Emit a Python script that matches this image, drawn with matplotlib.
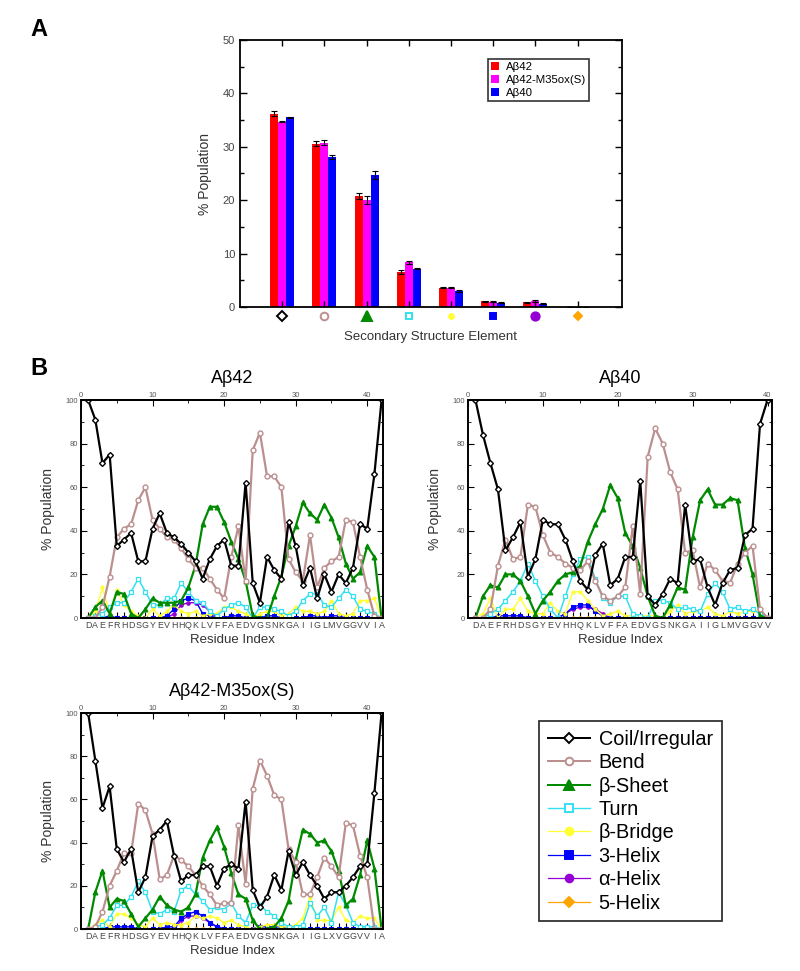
import numpy as np
import matplotlib
matplotlib.use("Agg")
import matplotlib.pyplot as plt
from matplotlib.lines import Line2D
import matplotlib.transforms as mtransforms

plt.rcParams["font.family"] = ["Liberation Sans", "DejaVu Sans"]

# ---- Panel A: overall secondary structure populations ----
systems = ["Aβ42", "Aβ42-M35ox(S)", "Aβ40"]
bar_colors = ["#ff0000", "#ff00ff", "#0000ff"]
pop_ab42 = [36.2, 30.6, 20.8, 6.5, 3.6, 1.1, 0.9, 0.0]
pop_ox = [34.7, 30.8, 20.0, 8.4, 3.6, 1.0, 1.1, 0.0]
pop_ab40 = [35.5, 28.1, 24.7, 7.2, 3.0, 0.8, 0.6, 0.0]
err_ab42 = [0.5, 0.5, 0.6, 0.4, 0.1, 0.1, 0.1, 0.0]
err_ox = [0.1, 0.4, 0.8, 0.3, 0.1, 0.1, 0.2, 0.0]
err_ab40 = [0.1, 0.4, 0.8, 0.1, 0.1, 0.1, 0.1, 0.0]

# ---- Panel B: per-residue populations ----
seq42 = list("DAEFRHDSGYEVHHQKLVFFAEDVGSNKGAIIGLMVGGVVIA")
seq40 = list("DAEFRHDSGYEVHHQKLVFFAEDVGSNKGAIIGLMVGGVV")
seqox = list("DAEFRHDSGYEVHHQKLVFFAEDVGSNKGAIIGLXVGGVVIA")

ab42 = {
    "coil": [100, 91, 71, 75, 33, 36, 39, 26, 26, 41, 48, 39, 37, 34, 30, 26, 18, 27, 33, 36, 24,
             24, 62, 16, 7, 28, 22, 18, 44, 33, 15, 23, 9, 20, 12, 20, 16, 23, 43, 41, 66, 100],
    "bend": [0, 0, 5, 19, 37, 41, 43, 54, 60, 45, 41, 37, 36, 32, 27, 23, 23, 18, 13, 9, 28,
             42, 17, 77, 85, 65, 65, 60, 27, 21, 17, 38, 14, 23, 26, 28, 45, 44, 28, 13, 1, 0],
    "sheet": [0, 5, 8, 2, 12, 11, 2, 0, 4, 9, 7, 7, 7, 8, 14, 24, 43, 51, 51, 44, 35,
              27, 17, 1, 0, 0, 10, 19, 33, 42, 53, 48, 45, 52, 46, 37, 25, 18, 21, 33, 28, 0],
    "turn": [0, 1, 2, 5, 7, 7, 12, 18, 12, 6, 6, 9, 9, 16, 12, 8, 7, 3, 1, 4, 6,
             7, 5, 0, 5, 5, 4, 3, 1, 3, 8, 11, 11, 6, 5, 9, 13, 10, 4, 3, 2, 0],
    "bridge": [0, 3, 14, 2, 13, 6, 3, 1, 0, 4, 1, 3, 6, 3, 2, 3, 1, 2, 2, 5, 5,
               3, 2, 0, 2, 3, 3, 1, 2, 5, 3, 3, 2, 3, 8, 2, 1, 2, 8, 8, 9, 0],
    "h3": [0, 0, 0, 1, 0, 0, 0, 0, 0, 0, 0, 1, 4, 8, 9, 8, 2, 1, 0, 0, 1,
           1, 0, 0, 0, 1, 1, 0, 0, 0, 0, 1, 1, 0, 1, 1, 0, 0, 0, 0, 0, 0],
    "alpha": [0, 0, 0, 0, 0, 0, 0, 0, 0, 0, 0, 0, 2, 6, 7, 7, 6, 3, 0, 0, 0,
              0, 0, 0, 0, 0, 0, 0, 0, 0, 0, 0, 0, 0, 0, 0, 0, 0, 0, 0, 0, 0],
    "h5": [0] * 42,
}

ab40 = {
    "coil": [100, 84, 71, 59, 31, 37, 44, 19, 27, 45, 43, 43, 36, 26, 17, 13, 29, 34, 15, 18,
             28, 28, 63, 10, 6, 11, 18, 16, 52, 26, 27, 14, 6, 16, 22, 23, 38, 41, 89, 100],
    "bend": [0, 0, 4, 24, 36, 27, 28, 52, 51, 38, 30, 28, 25, 23, 22, 26, 17, 10, 8, 10,
             14, 42, 11, 74, 87, 80, 67, 59, 30, 31, 14, 25, 22, 17, 16, 25, 30, 33, 4, 0],
    "sheet": [0, 10, 15, 14, 20, 20, 17, 10, 2, 8, 12, 17, 20, 21, 24, 35, 43, 50, 61, 55,
              39, 33, 23, 10, 1, 0, 6, 14, 13, 37, 54, 59, 52, 52, 55, 54, 32, 20, 1, 0],
    "turn": [0, 0, 2, 4, 8, 12, 17, 25, 17, 10, 4, 0, 10, 20, 27, 28, 18, 9, 7, 10,
             10, 2, 1, 0, 8, 8, 7, 4, 5, 4, 3, 11, 16, 12, 4, 5, 3, 4, 2, 0],
    "bridge": [0, 2, 9, 0, 4, 4, 9, 3, 2, 2, 7, 3, 2, 12, 12, 8, 4, 1, 2, 3,
               1, 1, 1, 1, 1, 0, 3, 6, 2, 3, 3, 5, 2, 1, 3, 2, 3, 3, 4, 0],
    "h3": [0, 0, 0, 1, 1, 1, 1, 0, 0, 0, 0, 0, 2, 5, 6, 6, 3, 1, 0, 0,
           0, 0, 0, 0, 0, 0, 0, 0, 0, 0, 0, 0, 0, 0, 0, 0, 0, 0, 0, 0],
    "alpha": [0, 0, 0, 0, 0, 0, 0, 0, 0, 0, 0, 0, 2, 4, 5, 5, 4, 2, 0, 0,
              0, 0, 0, 0, 0, 0, 0, 0, 0, 0, 0, 0, 0, 0, 0, 0, 0, 0, 0, 0],
    "h5": [0] * 40,
}

abox = {
    "coil": [100, 78, 56, 66, 37, 31, 37, 17, 24, 43, 46, 50, 34, 22, 25, 25, 29, 29, 20, 28, 30,
             28, 59, 18, 10, 15, 25, 18, 36, 25, 31, 25, 20, 14, 17, 17, 20, 24, 29, 30, 63, 100],
    "bend": [0, 1, 8, 20, 27, 35, 35, 58, 55, 44, 23, 25, 34, 32, 29, 25, 20, 16, 11, 12, 12,
             48, 21, 65, 78, 71, 62, 60, 37, 31, 16, 16, 24, 33, 29, 24, 49, 48, 34, 24, 0, 0],
    "sheet": [0, 17, 27, 10, 14, 13, 7, 1, 5, 9, 15, 11, 9, 8, 10, 16, 33, 41, 47, 38, 26,
              16, 14, 4, 0, 0, 1, 5, 13, 32, 46, 44, 40, 41, 36, 27, 11, 14, 25, 41, 28, 0],
    "turn": [0, 1, 2, 5, 11, 11, 15, 22, 17, 8, 7, 9, 8, 18, 20, 16, 13, 9, 10, 9, 12,
             6, 3, 11, 11, 8, 6, 3, 1, 1, 2, 12, 6, 10, 3, 17, 11, 3, 1, 1, 1, 0],
    "bridge": [0, 2, 4, 1, 7, 7, 5, 2, 1, 5, 2, 3, 2, 2, 3, 6, 5, 6, 5, 3, 4,
               2, 1, 0, 1, 2, 2, 1, 1, 2, 5, 15, 4, 4, 4, 10, 4, 3, 6, 5, 5, 0],
    "h3": [0, 0, 0, 1, 1, 1, 1, 0, 0, 0, 0, 1, 1, 5, 7, 8, 6, 3, 1, 0, 0,
           0, 0, 0, 1, 1, 1, 1, 0, 0, 0, 0, 0, 0, 0, 0, 0, 0, 0, 0, 0, 0],
    "alpha": [0, 0, 0, 0, 0, 0, 0, 0, 0, 0, 0, 0, 0, 4, 6, 6, 5, 3, 1, 0, 0,
              0, 0, 0, 0, 0, 0, 0, 0, 0, 0, 0, 0, 0, 0, 0, 0, 0, 0, 0, 0, 0],
    "h5": [0] * 42,
}

# series order, legend labels and styles (drawn bottom-up so coil ends on top)
series_keys = ["coil", "bend", "sheet", "turn", "bridge", "h3", "alpha", "h5"]
series_labels = ["Coil/Irregular", "Bend", "β-Sheet", "Turn", "β-Bridge",
                 "3-Helix", "α-Helix", "5-Helix"]
styles = {
    "coil": dict(color="black", marker="D", mfc="white", mec="black", ms=3, lw=1.6, mew=1.0),
    "bend": dict(color="#bc8f8f", marker="o", mfc="white", mec="#bc8f8f", ms=3.5, lw=1.6, mew=1.0),
    "sheet": dict(color="#008a00", marker="^", mfc="#008a00", mec="#008a00", ms=3.5, lw=1.6),
    "turn": dict(color="#33e0f0", marker="s", mfc="white", mec="#33e0f0", ms=3, lw=1.1, mew=0.9),
    "bridge": dict(color="#ffff33", marker="o", mfc="#ffff33", mec="#ffff33", ms=2.2, lw=1.0),
    "h3": dict(color="#0000ff", marker="s", mfc="#0000ff", mec="#0000ff", ms=2.5, lw=1.0),
    "alpha": dict(color="#9400d3", marker="o", mfc="#9400d3", mec="#9400d3", ms=2.5, lw=1.0),
    "h5": dict(color="#ffa500", marker="D", mfc="#ffa500", mec="#ffa500", ms=2.2, lw=1.0),
}
marker_sym = ["D", "o", "^", "s", "o", "s", "o", "D"]
marker_size_a = [5, 5.5, 6.5, 5, 3.5, 5, 6, 4.5]

fig = plt.figure(figsize=(8.0, 9.71), dpi=100)
W, H = 800.0, 971.0


def ax_at(x0, y0, x1, y1):
    # pixel box (top-left origin) -> figure axes
    return fig.add_axes([x0 / W, 1 - y1 / H, (x1 - x0) / W, (y1 - y0) / H])


# ================= Panel A =================
axA = ax_at(240, 40, 622, 307)
cats = np.arange(1, 9)
bw = 0.19
for k, (vals, errs, col, lab) in enumerate(zip([pop_ab42, pop_ox, pop_ab40],
                                               [err_ab42, err_ox, err_ab40],
                                               bar_colors, systems)):
    axA.bar(cats + (k - 1) * bw, vals, bw, color=col, label=lab,
            yerr=errs, error_kw=dict(ecolor="black", capsize=2.5, elinewidth=0.8, capthick=0.8))
axA.set_xlim(0, 9.05)
axA.set_ylim(0, 50)
axA.set_yticks(np.arange(0, 51, 10))
axA.set_yticks(np.arange(0, 51, 5), minor=True)
axA.set_xticks(cats)
axA.set_xticklabels([])
axA.tick_params(axis="both", which="both", direction="in", top=True, right=True,
                labelsize=8, labelcolor="#444444", width=1.0)
axA.tick_params(axis="x", length=4)
axA.tick_params(axis="y", which="major", length=5)
axA.tick_params(axis="y", which="minor", length=3)
for s in axA.spines.values():
    s.set_linewidth(1.3)
axA.set_ylabel("% Population", fontsize=10, color="#333333", labelpad=8)
axA.set_xlabel("Secondary Structure Element", fontsize=9.5, color="#333333", labelpad=14)
trans = mtransforms.blended_transform_factory(axA.transData, axA.transAxes)
for c, key, m, msz in zip(cats, series_keys, marker_sym, marker_size_a):
    st = styles[key]
    axA.plot([c], [-0.034], marker=m, ms=msz, mfc=st["mfc"], mec=st["mec"],
             mew=1.4, transform=trans, clip_on=False, ls="none")
legA = axA.legend(loc="upper left", bbox_to_anchor=(0.649, 0.93), fontsize=8.2, frameon=True,
                  fancybox=False, edgecolor="black", handlelength=0.7, handleheight=0.7,
                  borderpad=0.25, labelspacing=0.28, handletextpad=0.6, borderaxespad=0)
legA.get_frame().set_linewidth(1.2)

fig.text(30 / W, 1 - 30 / H, "A", fontsize=17, fontweight="bold", va="center", ha="left")
fig.text(30 / W, 1 - 368 / H, "B", fontsize=17, fontweight="bold", va="center", ha="left")


# ================= Panel B =================
def residue_panel(ax, data, seq, title, xmax):
    n = len(seq)
    res = np.arange(1, n + 1)
    for key in reversed(series_keys):
        st = styles[key]
        ax.plot(res, data[key], color=st["color"], marker=st["marker"], mfc=st["mfc"],
                mec=st["mec"], ms=st["ms"], lw=st["lw"], mew=st.get("mew", 0.8), clip_on=True)
    ax.set_xlim(0, xmax)
    ax.set_ylim(0, 100)
    ax.set_xticks(res)
    ax.set_xticklabels(seq, fontsize=6.4, color="#444444")
    ax.set_yticks(np.arange(0, 101, 20))
    ax.set_yticks(np.arange(0, 101, 10), minor=True)
    ax.tick_params(axis="x", direction="in", length=4, width=0.8, pad=2)
    ax.tick_params(axis="y", which="both", direction="in", right=True, labelsize=5.5,
                   labelcolor="#555555", pad=2)
    ax.tick_params(axis="y", which="major", length=4)
    ax.tick_params(axis="y", which="minor", length=2.5)
    top = ax.secondary_xaxis("top")
    top.set_xticks([0, 10, 20, 30, 40])
    top.set_xticks(np.arange(0, xmax, 5), minor=True)
    top.tick_params(axis="x", which="both", direction="in", labelsize=5.5,
                    labelcolor="#555555", pad=1)
    top.tick_params(axis="x", which="major", length=4)
    top.tick_params(axis="x", which="minor", length=2)
    for s in ax.spines.values():
        s.set_linewidth(1.4)
    top.spines["top"].set_linewidth(1.4)
    ax.set_ylabel("% Population", fontsize=10, color="#333333", labelpad=8)
    ax.set_xlabel("Residue Index", fontsize=9.5, color="#333333", labelpad=3)
    ax.set_title(title, fontsize=13, pad=12)


ax42 = ax_at(81, 400, 383, 618)
residue_panel(ax42, ab42, seq42, "Aβ42", 42.2)
ax40 = ax_at(468, 400, 772, 618)
residue_panel(ax40, ab40, seq40, "Aβ40", 40.6)
axox = ax_at(81, 713, 383, 929)
residue_panel(axox, abox, seqox, "Aβ42-M35ox(S)", 42.2)

handles = []
for key in series_keys:
    st = styles[key]
    handles.append(Line2D([0], [0], color=st["color"], marker=st["marker"], mfc=st["mfc"],
                          mec=st["mec"], ms=7 if key == "sheet" else 5.5,
                          lw=st["lw"] * 0.9, mew=1.4))
legB = fig.legend(handles, series_labels, loc="upper left",
                  bbox_to_anchor=(539 / W, 1 - 721 / H), fontsize=14.3, frameon=True,
                  fancybox=False, edgecolor="black", handlelength=2.1, borderpad=0.45,
                  labelspacing=0.22, handletextpad=0.45, borderaxespad=0)
legB.get_frame().set_linewidth(1.3)

fig.savefig("out.png", dpi=100)
